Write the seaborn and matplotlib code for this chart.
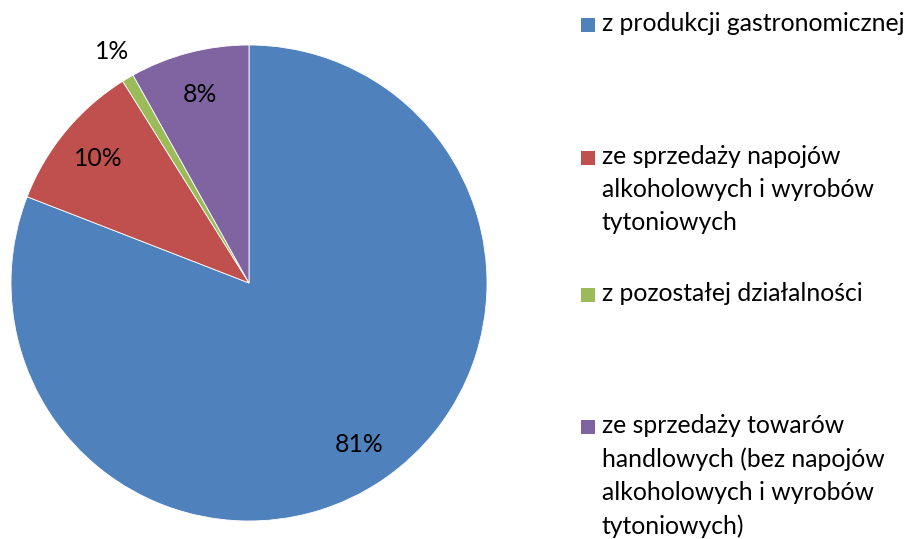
import matplotlib.pyplot as plt
import matplotlib.patches as mpatches
import numpy as np
import seaborn as sns

categories = [
    "z produkcji gastronomicznej",
    "ze sprzedaży napojów\nalkoholowych i wyrobów\ntytoniowych",
    "z pozostałej działalności",
    "ze sprzedaży towarów\nhandlowych (bez napojów\nalkoholowych i wyrobów\ntytoniowych)",
]
shares = [80.9, 10.2, 0.8, 8.1]
pct_labels = ["81%", "10%", "1%", "8%"]
colors = ["#4F81BD", "#C0504D", "#9BBB59", "#8064A2"]

sns.set_theme(style="white")
plt.rcParams["font.family"] = ["Lato", "DejaVu Sans"]
palette = sns.color_palette(colors)

fig = plt.figure(figsize=(9.08, 5.39), dpi=100)
W, H = 908, 539
ax = fig.add_axes([11 / W, (539 - 521) / H, 476 / W, 476 / H])

wedges, _ = ax.pie(shares, colors=palette, startangle=90, counterclock=False,
                   wedgeprops=dict(edgecolor="white", linewidth=0.6))
ax.set_xlim(-1, 1)
ax.set_ylim(-1, 1)
ax.set_aspect("equal")

# percentage labels, small slice placed outside the pie
for w, lab, val in zip(wedges, pct_labels, shares):
    ang = np.deg2rad((w.theta1 + w.theta2) / 2)
    r = 0.82 if val > 3 else 1.13
    ax.text(r * np.cos(ang), r * np.sin(ang), lab, ha="center", va="center",
            fontsize=17.8, color="black")

# legend, handle aligned with first line as in the original
tops = [25, 158, 295, 427]
for col, lab, y in zip(palette, categories, tops):
    fig.patches.append(mpatches.Rectangle((581 / W, 1 - (y + 7) / H), 14 / W, 14 / H,
                                          transform=fig.transFigure, facecolor=col,
                                          edgecolor="none"))
    fig.text(602 / W, 1 - (y - 13) / H, lab, ha="left", va="top", fontsize=17.8,
             linespacing=1.53, color="black")

fig.savefig("out.png", dpi=100)
